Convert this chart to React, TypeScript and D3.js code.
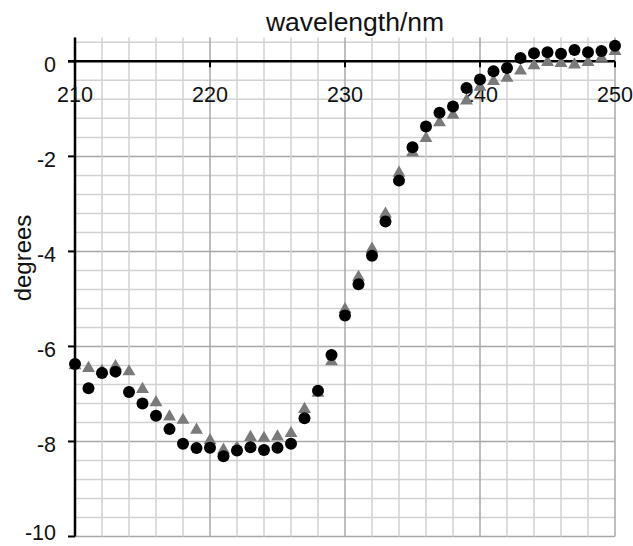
import React from "react";
import * as d3 from "d3";

const wavelengths = [210,211,212,213,214,215,216,217,218,219,220,221,222,223,224,225,226,227,228,229,230,231,232,233,234,235,236,237,238,239,240,241,242,243,244,245,246,247,248,249,250];
const seriesCircle = [-6.37,-6.88,-6.56,-6.53,-6.96,-7.20,-7.46,-7.74,-8.05,-8.14,-8.13,-8.31,-8.19,-8.12,-8.18,-8.13,-8.05,-7.51,-6.93,-6.18,-5.35,-4.69,-4.09,-3.37,-2.51,-1.81,-1.37,-1.08,-0.95,-0.56,-0.38,-0.21,-0.14,0.07,0.17,0.19,0.16,0.24,0.19,0.22,0.33];
const seriesTriangle = [-6.40,-6.46,-6.52,-6.42,-6.53,-6.90,-7.18,-7.48,-7.55,-7.76,-7.98,-8.18,-8.13,-7.91,-7.93,-7.90,-7.83,-7.32,-6.98,-6.32,-5.22,-4.54,-3.95,-3.21,-2.35,-1.92,-1.62,-1.29,-1.13,-0.83,-0.54,-0.42,-0.35,-0.20,-0.09,-0.02,-0.04,-0.07,-0.02,0.07,0.21];
const xTicks = [210, 220, 230, 240, 250];
const yTicks = [0, -2, -4, -6, -8, -10];
const xMinor = [210,212,214,216,218,220,222,224,226,228,230,232,234,236,238,240,242,244,246,248,250];
const yMinor = [0.4,0,-0.4,-0.8,-1.2,-1.6,-2,-2.4,-2.8,-3.2,-3.6,-4,-4.4,-4.8,-5.2,-5.6,-6,-6.4,-6.8,-7.2,-7.6,-8,-8.4,-8.8,-9.2,-9.6,-10];

export default function App() {
  const W = 633, H = 546;
  const x = d3.scaleLinear().domain([210, 250]).range([75, 615]);
  const y = d3.scaleLinear().domain([-10, 0.5]).range([536.5, 37.6]);
  const tri = d3.symbol().type(d3.symbolTriangle).size(72)();
  const font = "'Liberation Sans', Arial, sans-serif";
  const isMajorX = (v: number) => v % 10 === 0;
  const isMajorY = (v: number) => Math.abs(Math.round(v * 10) % 20) === 0;
  return (
    <svg width={W} height={H} style={{ position: "absolute", left: 0, top: 0, background: "#fff" }} fontFamily={font}>
      <rect width={W} height={H} fill="#fff" />
      {/* grid */}
      {yMinor.map((v, i) => (
        <line key={"gy" + i} x1={x(210)} x2={x(250)} y1={y(v)} y2={y(v)}
          stroke={isMajorY(v) ? "#a8a8a8" : "#d2d2d2"} strokeWidth={1.5} />
      ))}
      {xMinor.map((v, i) => (
        <line key={"gx" + i} x1={x(v)} x2={x(v)} y1={y(0.5)} y2={y(-10)}
          stroke={isMajorX(v) ? "#a8a8a8" : "#d2d2d2"} strokeWidth={1.5} />
      ))}
      {/* axes */}
      <line x1={x(210)} x2={x(210)} y1={y(0.5)} y2={y(-10)} stroke="#000" strokeWidth={2.5} />
      <line x1={x(210) - 7} x2={x(250)} y1={y(0)} y2={y(0)} stroke="#000" strokeWidth={2.5} />
      {xTicks.map((v) => (
        <line key={"xt" + v} x1={x(v)} x2={x(v)} y1={y(0)} y2={y(0) + 6} stroke="#000" strokeWidth={2} />
      ))}
      {yTicks.map((v) => (
        <line key={"yt" + v} x1={x(210) - 7} x2={x(210)} y1={y(v)} y2={y(v)} stroke="#000" strokeWidth={2} />
      ))}
      {xTicks.map((v) => (
        <text key={"xl" + v} x={x(v)} y={y(0) + 41} textAnchor="middle" fontSize={21.5} fill="#111">{v}</text>
      ))}
      {yTicks.map((v) => (
        <text key={"yl" + v} x={56} y={Math.min(y(v) + 10.5, 540)} textAnchor="end" fontSize={21.5} fill="#111">{v}</text>
      ))}
      <text x={355} y={31} textAnchor="middle" fontSize={26.5} fill="#111">wavelength/nm</text>
      <text transform="translate(31,258) rotate(-90)" textAnchor="middle" fontSize={24} fill="#111">degrees</text>
      {/* data */}
      {wavelengths.map((w, i) => (
        <path key={"t" + w} d={tri} transform={`translate(${x(w)},${y(seriesTriangle[i])})`} fill="#7a7a7a" />
      ))}
      {wavelengths.map((w, i) => (
        <circle key={"c" + w} cx={x(w)} cy={y(seriesCircle[i])} r={6} fill="#000" />
      ))}
    </svg>
  );
}
